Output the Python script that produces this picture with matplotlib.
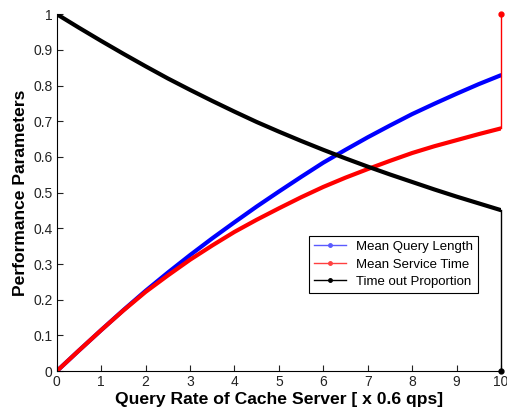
import numpy as np
import matplotlib
matplotlib.use('Agg')
import matplotlib.pyplot as plt
from matplotlib.lines import Line2D

plt.rcParams['font.family'] = ['Liberation Sans', 'DejaVu Sans']

# query rate (x 0.6 qps)
rate = [0, 0.5, 1, 1.5, 2, 2.5, 3, 3.5, 4, 4.5, 5, 5.5, 6, 6.5, 7, 7.5, 8, 8.5, 9, 9.5, 10]
query_len = [0, 0.058, 0.115, 0.171, 0.225, 0.276, 0.325, 0.372, 0.417, 0.461, 0.503,
             0.544, 0.584, 0.620, 0.655, 0.688, 0.720, 0.749, 0.777, 0.804, 0.829]
service_time = [0, 0.058, 0.115, 0.170, 0.222, 0.268, 0.312, 0.352, 0.390, 0.424, 0.456,
                0.487, 0.516, 0.542, 0.566, 0.589, 0.611, 0.630, 0.647, 0.664, 0.680]
timeout = [1.0, 0.962, 0.925, 0.889, 0.854, 0.820, 0.788, 0.757, 0.727, 0.698, 0.671,
           0.645, 0.620, 0.596, 0.573, 0.551, 0.530, 0.509, 0.489, 0.470, 0.451]
# last sample of each series at x=10
service_end = 1.0
timeout_end = 0.0

fig = plt.figure(figsize=(5.07, 4.17), dpi=100)
ax = fig.add_axes([0.112, 0.110, 0.876, 0.856])

ax.plot(rate, query_len, color='blue', lw=3.0, solid_capstyle='round')
ax.plot(rate, service_time, color='red', lw=3.0, solid_capstyle='round')
ax.plot(rate, timeout, color='black', lw=3.0, solid_capstyle='round')
# thin closing segments
ax.plot([rate[-1], rate[-1]], [service_time[-1], service_end], color='red', lw=1,
        marker='.', markevery=[1], ms=7, clip_on=False, zorder=5)
ax.plot([rate[-1], rate[-1]], [timeout[-1], timeout_end], color='black', lw=1,
        marker='.', markevery=[1], ms=7, clip_on=False, zorder=5)

ax.set_xlim(0, 10)
ax.set_ylim(0, 1)
ax.set_xticks(range(0, 11))
ax.set_yticks(np.arange(0, 1.01, 0.1))
ax.set_yticklabels(['0', '0.1', '0.2', '0.3', '0.4', '0.5', '0.6', '0.7', '0.8', '0.9', '1'])
ax.tick_params(direction='in', length=4, labelsize=10, colors='#222222', pad=3)
for s in ['top', 'right']:
    ax.spines[s].set_visible(False)

ax.set_xlabel('Query Rate of Cache Server [ x 0.6 qps]', fontsize=12.6, fontweight='bold', labelpad=2)
ax.set_ylabel('Performance Parameters', fontsize=12.6, fontweight='bold', labelpad=4)

handles = [Line2D([], [], color='#5a5aff', lw=1, marker='.', ms=5),
           Line2D([], [], color='#ff4040', lw=1, marker='.', ms=5),
           Line2D([], [], color='black', lw=1, marker='.', ms=5)]
leg = ax.legend(handles, ['Mean Query Length', 'Mean Service Time', 'Time out Proportion'],
                loc='upper right', bbox_to_anchor=(0.948, 0.378), fontsize=9.5,
                fancybox=False, framealpha=1, edgecolor='black', handlelength=2.4,
                borderpad=0.35, labelspacing=0.4, handletextpad=0.8, borderaxespad=0)
leg.get_frame().set_linewidth(0.8)

fig.savefig('out.png', dpi=100)
